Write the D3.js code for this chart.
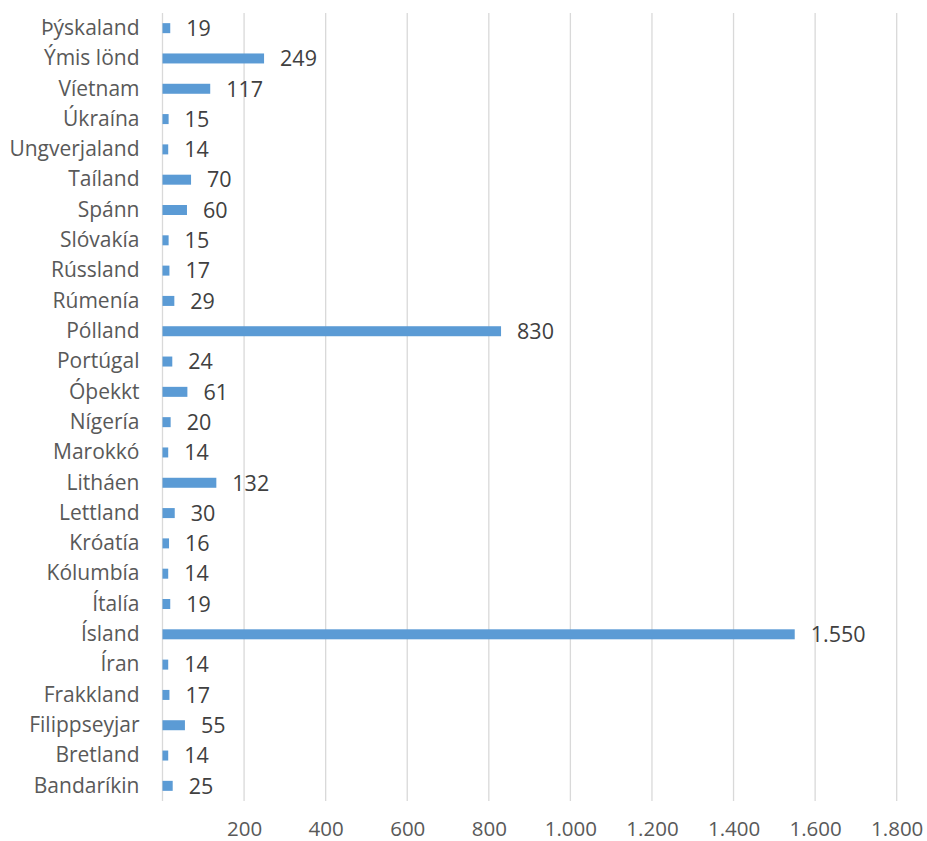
<!DOCTYPE html>
<html><head><meta charset="utf-8">
<script src="https://cdn.jsdelivr.net/npm/d3@7"></script>
<style>body{margin:0;background:#fff}</style>
</head><body>
<svg id="c" width="927" height="841"></svg>
<script>
const categories = ["Bandaríkin","Bretland","Filippseyjar","Frakkland","Íran","Ísland","Ítalía","Kólumbía","Króatía","Lettland","Litháen","Marokkó","Nígería","Óþekkt","Portúgal","Pólland","Rúmenía","Rússland","Slóvakía","Spánn","Taíland","Ungverjaland","Úkraína","Víetnam","Ýmis lönd","Þýskaland"];
const values = [25,14,55,17,14,1550,19,14,16,30,132,14,20,61,24,830,29,17,15,60,70,14,15,117,249,19];
const xTicks = [200,400,600,800,1000,1200,1400,1600,1800];

const svg = d3.select("#c");
const font = "'Open Sans', sans-serif";
const x = d3.scaleLinear().domain([0,1800]).range([162.5,896.7]);
const y = d3.scaleBand().domain(categories.slice().reverse()).range([13,801]).paddingInner(0.67).paddingOuter(0.335);
const fmt = v => d3.format(",")(v).replace(/,/g,".");

// gridlines
svg.append("g").selectAll("line").data([0].concat(xTicks)).join("line")
  .attr("x1",d=>x(d)).attr("x2",d=>x(d)).attr("y1",13).attr("y2",801)
  .attr("stroke","#d9d9d9").attr("stroke-width",1.3);

// bars
svg.append("g").selectAll("rect").data(categories).join("rect")
  .attr("x",x(0)).attr("y",d=>y(d)).attr("height",y.bandwidth())
  .attr("width",(d,i)=>x(values[i])-x(0)).attr("fill","#5b9bd5");

// value labels
svg.append("g").selectAll("text").data(categories).join("text")
  .attr("x",(d,i)=>x(values[i])+16).attr("y",d=>y(d)+y.bandwidth()/2)
  .attr("dy","0.36em").attr("font-family",font).attr("font-size",21.5)
  .attr("fill","#404040").text((d,i)=>fmt(values[i]));

// y axis labels
const yAxis = d3.axisLeft(y).tickSize(0).tickPadding(23);
const gy = svg.append("g").attr("transform",`translate(${x(0)},0)`).call(yAxis);
gy.select(".domain").remove();
gy.selectAll("text").attr("font-family",font).attr("font-size",21).attr("fill","#595959");

// x axis labels
const xAxis = d3.axisBottom(x).tickValues(xTicks).tickSize(0).tickPadding(0).tickFormat(fmt);
const gx = svg.append("g").attr("transform",`translate(0,821)`).call(xAxis);
gx.select(".domain").remove();
gx.selectAll("text").attr("font-family",font).attr("font-size",20.5).attr("fill","#595959");
</script>
</body></html>
